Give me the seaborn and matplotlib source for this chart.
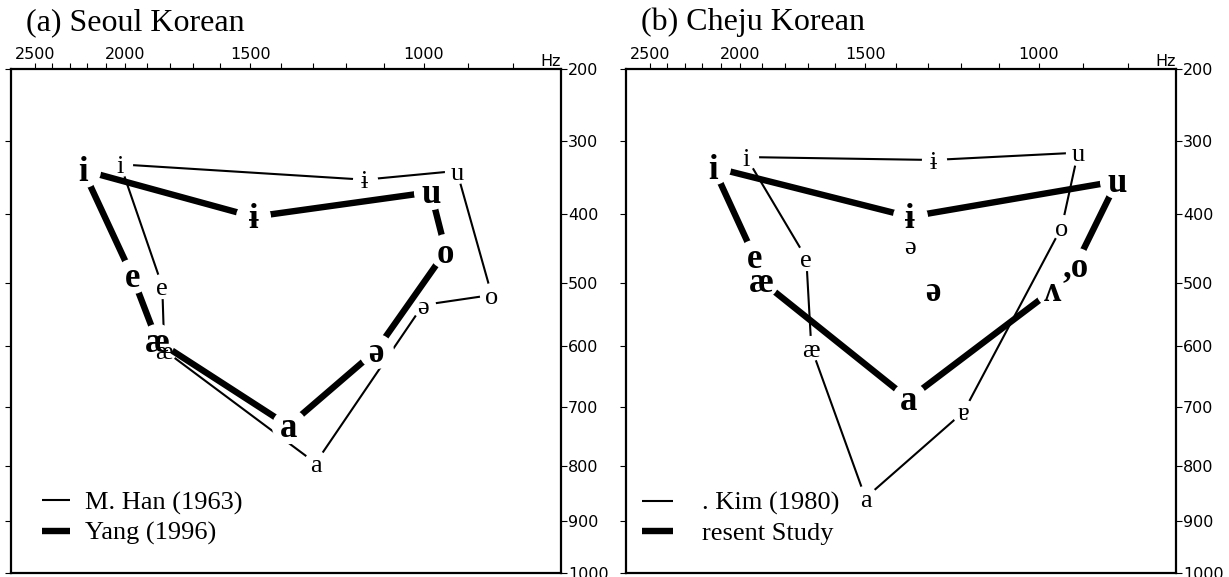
import numpy as np
import pandas as pd
import seaborn as sns
import matplotlib.pyplot as plt

# Axis calibration of the original figure: frequency (Hz) -> position (px) along the frame
f2_cal_hz = [700, 800, 900, 1000, 1100, 1200, 1300, 1400, 1500, 1600, 1700,
             1800, 1900, 2000, 2100, 2200, 2300, 2400, 2500, 2600, 2700]
f2_cal_pos = [560, 512, 467, 423, 383, 345, 312, 280, 250, 220, 193,
              170, 147, 125, 106, 87, 70, 52, 35, 18, 2]
f1_cal_hz = [200, 300, 400, 500, 600, 700, 800, 900, 1000]
f1_cal_pos = [69, 141, 214, 283, 346, 407, 466, 521, 573]

# (a) Seoul Korean
seoul_vowels = ["i", "ɨ", "u", "o", "ə", "a", "æ", "e"]
han_f2 = [2026, 1150, 925, 847, 1002, 1291, 1826, 1835]
han_f1 = [332, 353, 341, 519, 535, 795, 607, 505]
yang_f2 = [2224, 1490, 984, 950, 1121, 1375, 1857, 1968]
yang_f1 = [340, 404, 370, 454, 608, 732, 592, 490]

# (b) Cheju Korean  (last vowel, ə, is not on the vowel polygon)
kim_vowels = ["i", "ɨ", "u", "o", "ɐ", "a", "æ", "e", "ə"]
kim_f2 = [1973, 1282, 911, 948, 1192, 1500, 1689, 1709, 1356]
kim_f1 = [322, 326, 316, 419, 708, 858, 603, 464, 445]
present_vowels = ["i", "ɨ", "u", ",o", "ʌ", "a", "æ", "e", "ə"]
present_f2 = [2142, 1356, 824, 916, 968, 1359, 1905, 1936, 1285]
present_f1 = [336, 404, 355, 474, 511, 687, 497, 462, 511]

sns.set_style("white")
serif = ["Liberation Serif", "DejaVu Serif"]
plt.rcParams["font.family"] = ["DejaVu Sans"]
plt.rcParams["text.color"] = "black"
plt.rcParams["xtick.color"] = "black"
plt.rcParams["ytick.color"] = "black"
plt.rcParams["lines.solid_capstyle"] = "butt"

_f2_hz = np.asarray(f2_cal_hz, float)
_f2_pos = np.asarray(f2_cal_pos, float)
_f1_hz = np.asarray(f1_cal_hz, float)
_f1_pos = np.asarray(f1_cal_pos, float)


# F2 runs from high (left) to low (right): use minus the position so the scale increases
def f2_fwd(f):
    return -np.interp(f, _f2_hz, _f2_pos)


def f2_inv(p):
    return np.interp(-np.asarray(p), _f2_pos[::-1], _f2_hz[::-1])


def f1_fwd(f):
    return np.interp(f, _f1_hz, _f1_pos)


def f1_inv(p):
    return np.interp(p, _f1_pos, _f1_hz)


def vowel_space(ax, vowels, f2, f1, lw, size, weight, label, gap, z, n_loop=8):
    df = pd.DataFrame({"F2": f2[:n_loop] + f2[:1], "F1": f1[:n_loop] + f1[:1]})
    sns.lineplot(data=df, x="F2", y="F1", sort=False, estimator=None,
                 color="black", lw=lw, ax=ax, label=label, zorder=z)
    # white discs open a gap in the lines round every vowel symbol
    sns.scatterplot(x=f2, y=f1, s=gap, color="white", linewidth=0, ax=ax,
                    legend=False, zorder=z + 0.5)
    for v, x, y in zip(vowels, f2, f1):
        ax.annotate(v, (x, y), xytext=(0, -2), textcoords="offset points",
                    ha="center", va="center", fontsize=size, family=serif,
                    fontweight=weight, zorder=6)


fig = plt.figure(figsize=(12.29, 5.77), dpi=100)
W, H = 1229, 577
axes = []
for left in (11, 626):
    ax = fig.add_axes([left / W, (H - 573) / H, 550 / W, (573 - 69) / H])
    ax.set_xscale("function", functions=(f2_fwd, f2_inv))
    ax.set_yscale("function", functions=(f1_fwd, f1_inv))
    axes.append(ax)

vowel_space(axes[0], seoul_vowels, han_f2, han_f1, 1.5, 19, "normal", "M. Han (1963)", 330, 2)
vowel_space(axes[0], seoul_vowels, yang_f2, yang_f1, 4.6, 25, "bold", "Yang (1996)", 640, 3)
vowel_space(axes[1], kim_vowels, kim_f2, kim_f1, 1.5, 19, "normal", ". Kim (1980)", 330, 2)
vowel_space(axes[1], present_vowels, present_f2, present_f1, 4.6, 25, "bold", "resent Study", 640, 3)

panels = ((axes[0], "(a) Seoul Korean", 26, 0.056, 1.05, 0.57),
          (axes[1], "(b) Cheju Korean", 641, 0.029, 1.17, 1.12))
for ax, title, tx, lx, hlen, hpad in panels:
    ax.set_xlim(2644, 700)
    ax.set_ylim(1000, 200)
    ax.set_xlabel("")
    ax.set_ylabel("")
    ax.set_xticks([2500, 2000, 1500, 1000])
    ax.set_xticks(list(range(800, 2500, 100)), minor=True)
    ax.set_yticks(list(range(200, 1001, 100)))
    ax.xaxis.tick_top()
    ax.tick_params(axis="x", which="both", direction="out", length=4, width=0.8,
                   top=True, bottom=False, labeltop=True, labelbottom=False,
                   labelsize=11.5, pad=1)
    ax.tick_params(axis="y", direction="out", length=4, width=0.8, left=True,
                   right=True, labelleft=False, labelright=True, labelsize=11.5, pad=1)
    for s in ax.spines.values():
        s.set_linewidth(1.6)
        s.set_color("black")
    ax.text(1.0, 1.0, "Hz", transform=ax.transAxes, ha="right", va="bottom",
            fontsize=11.5)
    fig.text(tx / W, 1 - 30 / H, title, family=serif, fontsize=23, va="baseline")
    ax.legend(loc="lower left", bbox_to_anchor=(lx, 0.055), frameon=False,
              borderpad=0, borderaxespad=0, handlelength=hlen, handletextpad=hpad,
              labelspacing=0.25, prop={"family": serif, "size": 19})

fig.savefig("out.png", dpi=100)
